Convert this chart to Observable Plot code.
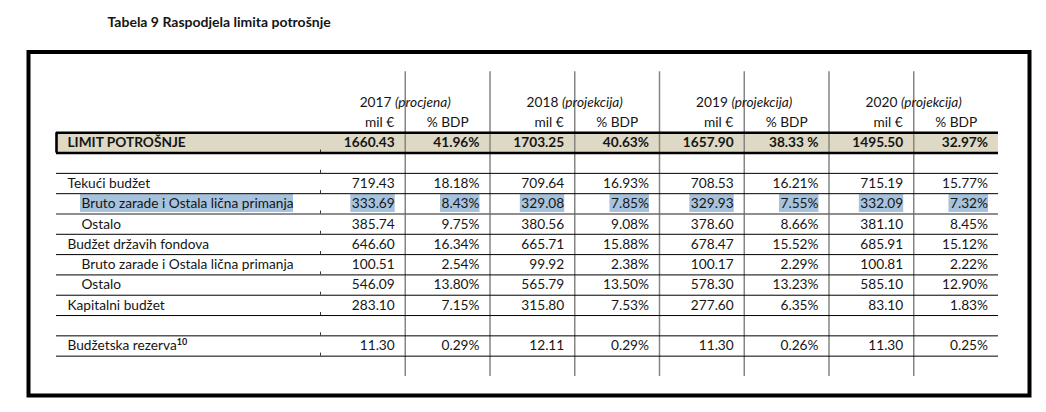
<!DOCTYPE html>
<html>
<head>
<meta charset="utf-8">
<script src="https://cdn.jsdelivr.net/npm/d3@7"></script>
<script src="https://cdn.jsdelivr.net/npm/@observablehq/plot@0.6"></script>
<style>
  html, body { margin: 0; padding: 0; background: #fff; }
</style>
</head>
<body>
<div id="chart"></div>
<script>
// ---------- data ----------
const title = "Tabela 9 Raspodjela limita potrošnje";
const years = ["2017", "2018", "2019", "2020"];
const yearNotes = ["procjena", "projekcija", "projekcija", "projekcija"];
const units = ["mil €", "% BDP"];
const rowLabels = [
  "LIMIT POTROŠNJE", "",
  "Tekući budžet", "Bruto zarade i Ostala lična primanja", "Ostalo",
  "Budžet državih fondova", "Bruto zarade i Ostala lična primanja", "Ostalo",
  "Kapitalni budžet", "", "Budžetska rezerva"
];
const rowIndent = [0, 0, 0, 1, 1, 0, 1, 1, 0, 0, 0];
const footnoteRef = "10"; // superscript on "Budžetska rezerva"
const mil2017 = [1660.43, null, 719.43, 333.69, 385.74, 646.60, 100.51, 546.09, 283.10, null, 11.30];
const bdp2017 = [41.96, null, 18.18, 8.43, 9.75, 16.34, 2.54, 13.80, 7.15, null, 0.29];
const mil2018 = [1703.25, null, 709.64, 329.08, 380.56, 665.71, 99.92, 565.79, 315.80, null, 12.11];
const bdp2018 = [40.63, null, 16.93, 7.85, 9.08, 15.88, 2.38, 13.50, 7.53, null, 0.29];
const mil2019 = [1657.90, null, 708.53, 329.93, 378.60, 678.47, 100.17, 578.30, 277.60, null, 11.30];
const bdp2019 = [38.33, null, 16.21, 7.55, 8.66, 15.52, 2.29, 13.23, 6.35, null, 0.26];
const mil2020 = [1495.50, null, 715.19, 332.09, 381.10, 685.91, 100.81, 585.10, 83.10, null, 11.30];
const bdp2020 = [32.97, null, 15.77, 7.32, 8.45, 15.12, 2.22, 12.90, 1.83, null, 0.25];
const highlightedRow = 3;          // selected (blue) row
const spacedPctCell = [0, 2];      // row 0, year index 2 printed as "38.33 %"

// ---------- layout ----------
const FONT = "Lato";
const FS = 13.7;
const TITLE_FS = 14;
const X0 = 320, COL_W = 84.75, TABLE_LEFT_PX = 56;
const Y0 = 142.4, ROW_H = 20.31;
const ux = px => px / COL_W;
const uy = px => px / ROW_H;
const TABLE_LEFT = ux(TABLE_LEFT_PX - X0);
const TABLE_RIGHT = 8;
const PAD_R = 10.5;

const yearMil = [mil2017, mil2018, mil2019, mil2020];
const yearBdp = [bdp2017, bdp2018, bdp2019, bdp2020];

const cells = [];
rowLabels.forEach((label, i) => {
  years.forEach((yr, k) => {
    const m = yearMil[k][i], b = yearBdp[k][i];
    if (m != null) cells.push({row: i, col: 2 * k, text: m.toFixed(2)});
    if (b != null) {
      const sp = (i === spacedPctCell[0] && k === spacedPctCell[1]) ? " " : "";
      cells.push({row: i, col: 2 * k + 1, text: b.toFixed(2) + sp + "%"});
    }
  });
});
const rows = rowLabels.map((label, i) => ({row: i, label, indent: rowIndent[i]}))
  .filter(d => d.label);

// measure text widths for the selection highlight
const ctx = document.createElement("canvas").getContext("2d");
ctx.font = `${FS}px ${FONT}`;
const tw = s => ctx.measureText(s).width;

const highlights = [];
{
  const lab = rowLabels[highlightedRow];
  const x1 = TABLE_LEFT + ux(25 - 1);
  highlights.push({x1, x2: x1 + ux(tw(lab) + 1)});
  cells.filter(c => c.row === highlightedRow).forEach(c => {
    const end = c.col + 1 - ux(PAD_R - 0.5);
    highlights.push({x1: end - ux(tw(c.text) + 1.5), x2: end});
  });
}

const boundaries = d3.range(1.5, 11, 1);
const verticals = d3.range(1, 8);

const chart = Plot.plot({
  width: 1046,
  height: 412,
  marginLeft: 28,
  marginTop: 51.5,
  marginRight: 17,
  marginBottom: 17,
  x: {type: "linear", domain: [0, 8], range: [X0, X0 + 8 * COL_W], axis: null},
  y: {type: "linear", domain: [0, 10], range: [Y0, Y0 + 10 * ROW_H], axis: null},
  style: {fontFamily: FONT, fontSize: FS + "px", color: "#151515", background: "#fff"},
  marks: [
    Plot.frame({stroke: "#000", strokeWidth: 4}),
    // title
    Plot.text([title], {frameAnchor: "top-left", dx: 79, dy: -29, textAnchor: "start",
      lineAnchor: "middle", fontWeight: "bold", fontSize: TITLE_FS, fill: "#151515"}),
    // LIMIT row background
    Plot.rect([rowLabels[0]], {x1: TABLE_LEFT, x2: TABLE_RIGHT, y1: -0.5, y2: 0.5, fill: "#ddd9c4"}),
    // selection highlight
    Plot.rect(highlights, {x1: "x1", x2: "x2",
      y1: highlightedRow - uy(9.3), y2: highlightedRow + uy(8.7), fill: "#a7c2dc"}),
    // vertical column lines
    Plot.ruleX(verticals, {x: d => d, y1: -3.5, y2: 11.5, stroke: "#858585", strokeWidth: 1.5}),
    // horizontal row lines
    Plot.ruleY(boundaries.filter(b => b !== highlightedRow + 0.5), {y: d => d, x1: TABLE_LEFT, x2: TABLE_RIGHT, stroke: "#000", strokeWidth: 1}),
    Plot.ruleY([highlightedRow + 0.5], {y: d => d, x1: TABLE_LEFT, x2: TABLE_RIGHT, stroke: "#6a6a6a", strokeWidth: 1.6}),
    // small ticks at label/value border
    Plot.ruleX([0.5, ...boundaries], {x: 0, y1: d => d - uy(3), y2: d => d, stroke: "#333", strokeWidth: 1}),
    // LIMIT row box
    Plot.ruleY([-0.5, 0.5], {y: d => d, x1: TABLE_LEFT, x2: TABLE_RIGHT, stroke: "#000", strokeWidth: 2.6}),
    Plot.ruleX([TABLE_LEFT], {x: d => d, y1: -0.5, y2: 0.5, stroke: "#000", strokeWidth: 2.6}),
    // headers
    Plot.text(years, {x: (d, k) => 2 * k + 1, y: -2, text: (d, k) => `${d} (${yearNotes[k]})`, textAnchor: "middle"}),
    Plot.text(years, {x: (d, k) => 2 * k + 1, y: -1, text: () => units[0], textAnchor: "end", dx: -11}),
    Plot.text(years, {x: (d, k) => 2 * k + 1.5, y: -1, text: () => units[1], textAnchor: "middle"}),
    // row labels
    Plot.text(rows.filter(d => d.row !== 0), {x: d => TABLE_LEFT + ux(d.indent ? 25 : 11), y: "row", text: "label", textAnchor: "start"}),
    Plot.text(rows.filter(d => d.row === 0), {x: d => TABLE_LEFT + ux(11), y: "row", text: "label", textAnchor: "start", fontWeight: "bold"}),
    // values
    Plot.text(cells.filter(d => d.row !== 0), {x: d => d.col + 1, y: "row", text: "text", textAnchor: "end", dx: -PAD_R}),
    Plot.text(cells.filter(d => d.row === 0), {x: d => d.col + 1, y: "row", text: "text", textAnchor: "end", dx: -PAD_R, fontWeight: "bold"})
  ]
});

// italic notes in year headers, superscript footnote reference
chart.querySelectorAll("text").forEach(t => {
  const s = t.textContent;
  const m = /^(\d{4}) \((.+)\)$/.exec(s);
  if (m && t.childElementCount === 0) {
    t.textContent = m[1] + " ";
    const ts = document.createElementNS("http://www.w3.org/2000/svg", "tspan");
    ts.setAttribute("font-style", "italic");
    ts.textContent = `(${m[2]})`;
    t.appendChild(ts);
  }
  if (s === rowLabels[10] && t.childElementCount === 0) {
    const ts = document.createElementNS("http://www.w3.org/2000/svg", "tspan");
    ts.setAttribute("font-size", "9px");
    ts.setAttribute("font-weight", "bold");
    ts.setAttribute("dy", "-5");
    ts.textContent = footnoteRef;
    t.appendChild(ts);
  }
});

document.getElementById("chart").appendChild(chart);
</script>
</body>
</html>
